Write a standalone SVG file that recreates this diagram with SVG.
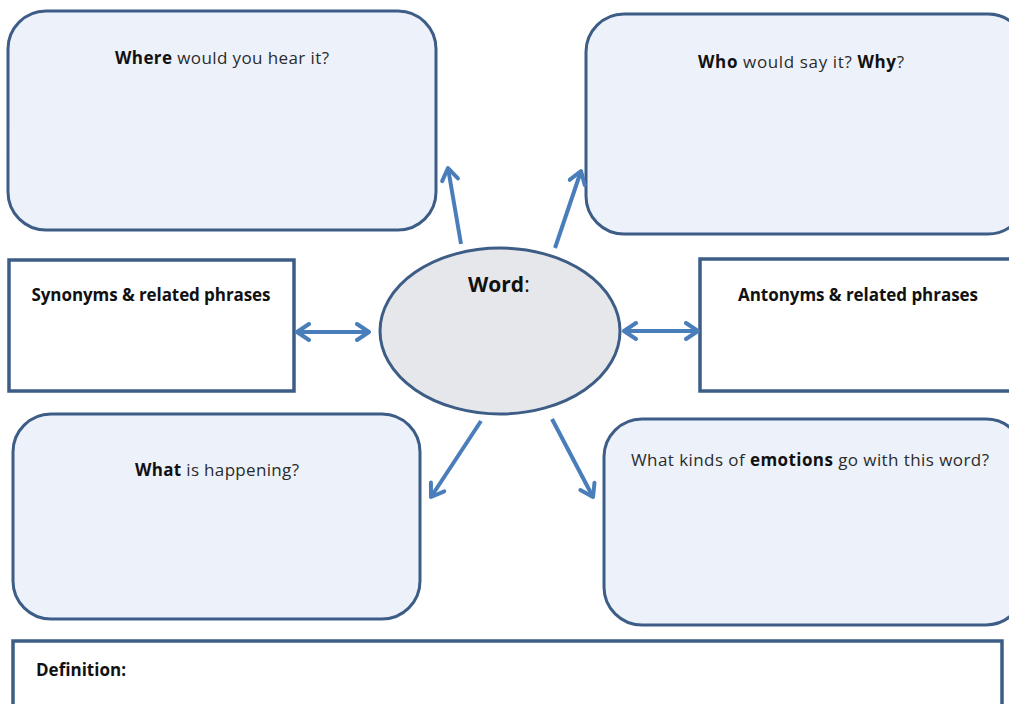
<svg xmlns="http://www.w3.org/2000/svg" width="1009" height="704" viewBox="0 0 1009 704">
<style>
.rbox{fill:#edf2fa;stroke:#3d5d86;stroke-width:3}
.sbox{fill:#ffffff;stroke:#3d5d86;stroke-width:3.5}
.t{font-family:"Open Sans","Liberation Sans",sans-serif;font-size:17px;fill:#2b2b2b}
.b{font-weight:bold;fill:#111}
.arr{stroke:#4a7ebb;stroke-width:4;fill:none}
</style>
<defs>
<marker id="ah" markerUnits="userSpaceOnUse" viewBox="0 0 20 20" refX="17" refY="10" markerWidth="20" markerHeight="20" orient="auto-start-reverse">
<path d="M5,2 L17,10 L5,18" fill="none" stroke="#4a7ebb" stroke-width="4" stroke-linecap="round" stroke-linejoin="round"/>
</marker>
</defs>
<rect width="1009" height="704" fill="#ffffff"/>
<g id="where">
<rect class="rbox" x="8" y="11" width="428" height="219" rx="38"/>
<text class="t" x="222" y="64" text-anchor="middle" textLength="214"><tspan class="b">Where</tspan> would you hear it?</text>
</g>
<g id="who">
<rect class="rbox" x="586" y="14" width="440" height="220" rx="38"/>
<text class="t" x="801" y="68" text-anchor="middle" textLength="206"><tspan class="b">Who</tspan> would say it? <tspan class="b">Why</tspan>?</text>
</g>
<g id="synonyms">
<rect class="sbox" x="9" y="260" width="285" height="131"/>
<text class="t b" x="151" y="301" text-anchor="middle" textLength="239">Synonyms &amp; related phrases</text>
</g>
<g id="antonyms">
<rect class="sbox" x="700" y="259" width="320" height="132"/>
<text class="t b" x="858" y="301" text-anchor="middle" textLength="240">Antonyms &amp; related phrases</text>
</g>
<g id="word">
<ellipse cx="500" cy="331" rx="120" ry="83" fill="#e6e7ea" stroke="#3d5d86" stroke-width="3"/>
<text x="468" y="292" font-family="'Open Sans','Liberation Sans',sans-serif" font-size="21" fill="#111"><tspan font-weight="bold">Word</tspan>:</text>
</g>
<g id="happening">
<rect class="rbox" x="13" y="414" width="407" height="205" rx="38"/>
<text class="t" x="217" y="476" text-anchor="middle" textLength="164"><tspan class="b">What</tspan> is happening?</text>
</g>
<g id="emotions">
<rect class="rbox" x="604" y="419" width="420" height="206" rx="38"/>
<text class="t" x="810" y="466" text-anchor="middle" textLength="358">What kinds of <tspan class="b">emotions</tspan> go with this word?</text>
</g>
<g id="definition">
<rect class="sbox" x="13" y="641" width="989" height="66"/>
<text class="t b" x="36" y="676" textLength="90" lengthAdjust="spacingAndGlyphs">Definition:</text>
</g>
<g id="connectors">
<line class="arr" x1="461" y1="244" x2="448" y2="168" marker-end="url(#ah)"/>
<line class="arr" x1="555" y1="248" x2="581" y2="171" marker-end="url(#ah)"/>
<line class="arr" x1="297" y1="332" x2="369" y2="332" marker-start="url(#ah)" marker-end="url(#ah)"/>
<line class="arr" x1="624" y1="331" x2="698" y2="331" marker-start="url(#ah)" marker-end="url(#ah)"/>
<line class="arr" x1="481" y1="421" x2="431" y2="497" marker-end="url(#ah)"/>
<line class="arr" x1="552" y1="419" x2="593" y2="497" marker-end="url(#ah)"/>
</g>
</svg>
